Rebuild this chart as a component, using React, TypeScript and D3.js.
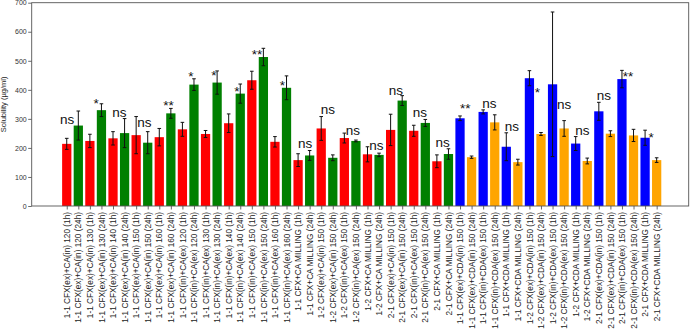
import React, { useEffect, useRef } from 'react';
import * as d3 from 'd3';

// bar labels, in plotting order
const labels = [
  '1-1 CFX(ex)+CA(in) 120 (1h)', '1-1 CFX(ex)+CA(in) 120 (24h)',
  '1-1 CFX(ex)+CA(in) 130 (1h)', '1-1 CFX(ex)+CA(in) 130 (24h)',
  '1-1 CFX(ex)+CA(in) 140 (1h)', '1-1 CFX(ex)+CA(in) 140 (24h)',
  '1-1 CFX(ex)+CA(in) 150 (1h)', '1-1 CFX(ex)+CA(in) 150 (24h)',
  '1-1 CFX(ex)+CA(in) 160 (1h)', '1-1 CFX(ex)+CA(in) 160 (24h)',
  '1-1 CFX(in)+CA(ex) 120 (1h)', '1-1 CFX(in)+CA(ex) 120 (24h)',
  '1-1 CFX(in)+CA(ex) 130 (1h)', '1-1 CFX(in)+CA(ex) 130 (24h)',
  '1-1 CFX(in)+CA(ex) 140 (1h)', '1-1 CFX(in)+CA(ex) 140 (24h)',
  '1-1 CFX(in)+CA(ex) 150 (1h)', '1-1 CFX(in)+CA(ex) 150 (24h)',
  '1-1 CFX(in)+CA(ex) 160 (1h)', '1-1 CFX(in)+CA(ex) 160 (24h)',
  '1-1 CFX+CA MILLING (1h)', '1-1 CFX+CA MILLING (24h)',
  '1-2 CFX(ex)+CA(in) 150 (1h)', '1-2 CFX(ex)+CA(in) 150 (24h)',
  '1-2 CFX(in)+CA(ex) 150 (1h)', '1-2 CFX(in)+CA(ex) 150 (24h)',
  '1-2 CFX+CA MILLING (1h)', '1-2 CFX+CA MILLING (24h)',
  '2-1 CFX(ex)+CA(in) 150 (1h)', '2-1 CFX(ex)+CA(in) 150 (24h)',
  '2-1 CFX(in)+CA(ex) 150 (1h)', '2-1 CFX(in)+CA(ex) 150 (24h)',
  '2-1 CFX+CA MILLING (1h)', '2-1 CFX+CA MILLING (24h)',
  '1-1 CFX(ex)+CDA(in) 150 (1h)', '1-1 CFX(ex)+CDA(in) 150 (24h)',
  '1-1 CFX(in)+CDA(ex) 150 (1h)', '1-1 CFX(in)+CDA(ex) 150 (24h)',
  '1-1 CFX+CDA MILLING (1h)', '1-1 CFX+CDA MILLING (24h)',
  '1-2 CFX(ex)+CDA(in) 150 (1h)', '1-2 CFX(ex)+CDA(in) 150 (24h)',
  '1-2 CFX(in)+CDA(ex) 150 (1h)', '1-2 CFX(in)+CDA(ex) 150 (24h)',
  '1-2 CFX+CDA MILLING (1h)', '1-2 CFX+CDA MILLING (24h)',
  '2-1 CFX(ex)+CDA(in) 150 (1h)', '2-1 CFX(ex)+CDA(in) 150 (24h)',
  '2-1 CFX(in)+CDA(ex) 150 (1h)', '2-1 CFX(in)+CDA(ex) 150 (24h)',
  '2-1 CFX+CDA MILLING (1h)', '2-1 CFX+CDA MILLING (24h)',
];

const means = [
  214, 277, 224, 330, 233, 251, 244, 218, 237, 319,
  264, 418, 248, 425, 285, 387, 433, 513, 221, 407,
  158, 174, 267, 166, 234, 224, 178, 176, 262, 363,
  259, 286, 154, 179, 302, 168, 324, 288, 204, 151,
  440, 248, 419, 267, 215, 155, 326, 249, 437, 243,
  235, 158,
];

const errors = [
  19, 50, 23, 22, 23, 50, 64, 38, 30, 17,
  24, 20, 12, 40, 32, 33, 31, 30, 18, 41,
  22, 17, 41, 10, 17, 3, 26, 6, 54, 17,
  19, 12, 22, 18, 8, 4, 7, 26, 48, 10,
  26, 5, 249, 27, 24, 10, 31, 10, 30, 21,
  26, 8,
];

// significance marks: text, x (bar index), y (value at baseline)
const marks = ['ns', '*', 'ns', 'ns', '**', '*', '*', '*', '**', '*', 'ns', 'ns', 'ns',
  'ns', 'ns', 'ns', 'ns', '**', 'ns', 'ns', '*', 'ns', 'ns', 'ns', '**', '*'];
const markX = [0.04, 2.55, 4.54, 6.72, 8.8, 10.73, 12.72, 14.7, 16.44, 18.65, 20.6, 22.57, 24.74,
  26.77, 28.45, 30.53, 32.5, 34.45, 36.54, 38.49, 40.68, 43.0, 44.57, 46.43, 48.52, 50.52];
const markY = [282, 339, 307, 273, 329, 431, 433, 378, 507, 400, 199, 316, 244,
  193, 382, 305, 204, 321, 336, 259, 375, 333, 244, 365, 432, 222];

const yTicks = [0, 100, 200, 300, 400, 500, 600, 700];

const App = () => {
  const ref = useRef<SVGSVGElement>(null);

  useEffect(() => {
    const svg = d3.select(ref.current);
    svg.selectAll('*').remove();

    const width = 692;
    const height = 332;
    const left = 31.7, right = 688.7, top = 2.7, bottom = 206;
    const font = '"Liberation Sans", Arial, sans-serif';

    svg.attr('width', width).attr('height', height);

    const x = d3.scaleLinear().domain([-3.03, 53.77]).range([left, right]);
    const y = d3.scaleLinear().domain([0, 700]).range([bottom, top]);
    const barW = x(0.8) - x(0);

    const color = (i: number) =>
      i < 34 ? (i % 2 === 0 ? 'red' : 'green') : (i % 2 === 0 ? 'blue' : 'orange');

    const data = means.map((m, i) => ({ i, m, e: errors[i], label: labels[i] }));

    // bars
    svg.append('g')
      .selectAll('rect')
      .data(data)
      .enter().append('rect')
      .attr('x', d => x(d.i) - barW / 2)
      .attr('y', d => y(d.m))
      .attr('width', barW)
      .attr('height', d => y(0) - y(d.m))
      .attr('fill', d => color(d.i));

    // error bars
    const eb = svg.append('g').attr('stroke', '#111').attr('stroke-width', 1);
    const cap = 1.8;
    data.forEach(d => {
      const cx = x(d.i);
      eb.append('line').attr('x1', cx).attr('x2', cx).attr('y1', y(d.m - d.e)).attr('y2', y(d.m + d.e));
      eb.append('line').attr('x1', cx - cap).attr('x2', cx + cap).attr('y1', y(d.m - d.e)).attr('y2', y(d.m - d.e));
      eb.append('line').attr('x1', cx - cap).attr('x2', cx + cap).attr('y1', y(d.m + d.e)).attr('y2', y(d.m + d.e));
    });

    // significance text
    svg.append('g')
      .selectAll('text')
      .data(marks)
      .enter().append('text')
      .attr('x', (_, k) => x(markX[k]))
      .attr('y', (_, k) => y(markY[k]))
      .attr('text-anchor', 'middle')
      .attr('font-family', font)
      .attr('font-size', 13.5)
      .attr('fill', '#111')
      .text(d => d);

    // axes
    const yAxis = svg.append('g')
      .attr('transform', `translate(${left},0)`)
      .call(d3.axisLeft(y).tickValues(yTicks).tickSize(3.5).tickPadding(1.5));
    yAxis.select('.domain').remove();
    yAxis.selectAll('text').attr('font-family', font).attr('font-size', 7).attr('fill', '#333');
    yAxis.selectAll('line').attr('stroke', '#444').attr('stroke-width', 0.8);

    const xAxis = svg.append('g')
      .attr('transform', `translate(0,${bottom})`)
      .call(d3.axisBottom(x).tickValues(d3.range(labels.length)).tickSize(3.5).tickFormat((_, k) => labels[k]));
    xAxis.select('.domain').remove();
    xAxis.selectAll('line').attr('stroke', '#444').attr('stroke-width', 0.8);
    xAxis.selectAll('text')
      .attr('font-family', font)
      .attr('font-size', 8.25)
      .attr('fill', '#222')
      .attr('text-anchor', 'end')
      .attr('dy', '0.32em')
      .attr('transform', 'translate(0,6) rotate(-90)')
      .attr('x', 0)
      .attr('y', 0);

    // frame
    svg.append('rect')
      .attr('x', left).attr('y', top)
      .attr('width', right - left).attr('height', bottom - top)
      .attr('fill', 'none').attr('stroke', '#555').attr('stroke-width', 0.9);

    // y label
    svg.append('text')
      .attr('transform', `translate(6,${(top + bottom) / 2}) rotate(-90)`)
      .attr('text-anchor', 'middle')
      .attr('font-family', font)
      .attr('font-size', 7.5)
      .attr('fill', '#222')
      .text('Solubility (µg/ml)');
  }, []);

  return (
    <svg ref={ref} style={{ position: 'absolute', left: 0, top: 0, display: 'block' }}></svg>
  );
};

export default App;
